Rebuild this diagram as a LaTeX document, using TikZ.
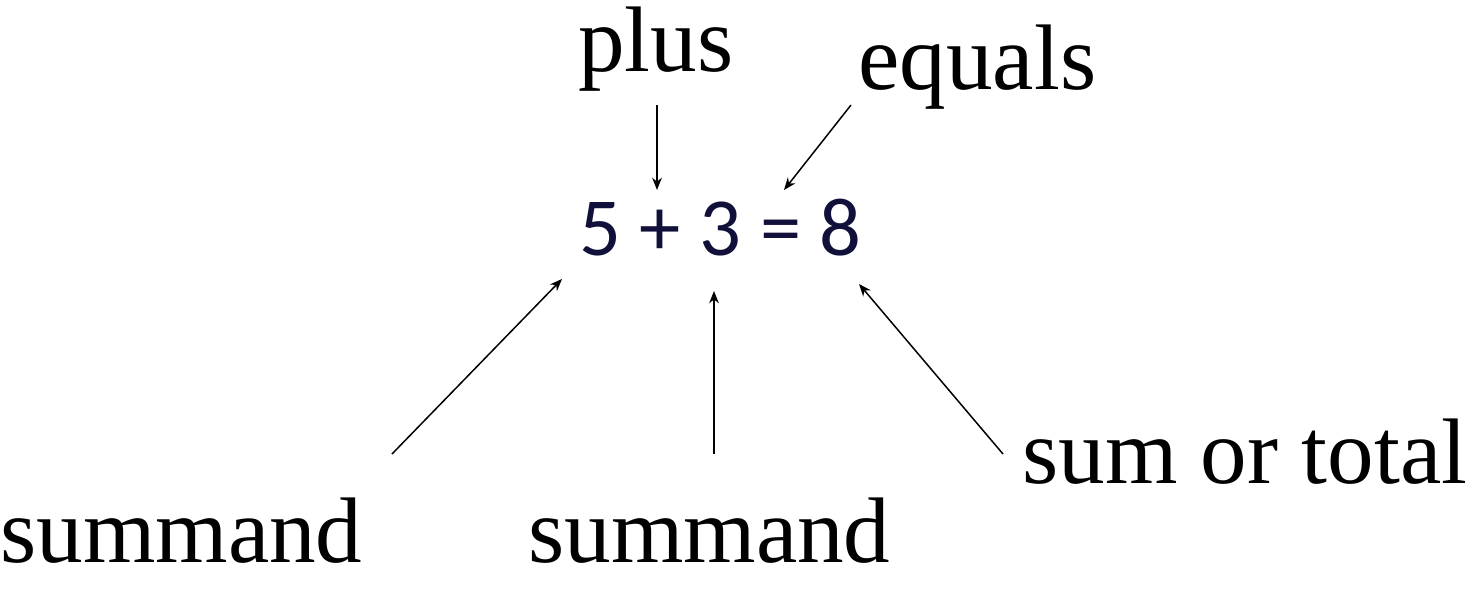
\documentclass[tikz,border=0pt]{standalone}
\usepackage{fontspec}
\setmainfont{Liberation Serif}
\newfontfamily\eqfont{Carlito}
\usetikzlibrary{arrows.meta}
\definecolor{eqnavy}{HTML}{10103A}

\begin{document}
\begin{tikzpicture}[x=0.02cm,y=-0.02cm,
    word/.style={font=\fontsize{53}{60}\selectfont,inner sep=0,anchor=base west},
    pointer/.style={line width=.85pt,-{Stealth[length=7pt,width=5.5pt]}}]

\useasboundingbox (0,0) rectangle (1471,598);

%equation
\node[inner sep=0,anchor=base west,text=eqnavy,font=\eqfont\fontsize{47}{52}\selectfont] at (579,255)(sum){5 + 3 = 8};

%names
\node[word] at (578,72)(plus){plus};
\node[word] at (858,90)(equals){equals};
\node[word] at (0,562)(first){summand};
\node[word] at (528,562)(second){summand};
\node[word] at (1022,483)(total){sum or total};

%arrow ends
\coordinate (plusT) at (657,105);
\coordinate (plusH) at (657,190);
\coordinate (equalsT) at (851,105);
\coordinate (equalsH) at (784,190);
\coordinate (firstT) at (392,454);
\coordinate (firstH) at (562,279);
\coordinate (secondT) at (714,454);
\coordinate (secondH) at (714,291);
\coordinate (totalT) at (1003,454);
\coordinate (totalH) at (859,284);

\foreach \n in {plus,equals,first,second,total}{
    \draw[pointer] (\n T) -- (\n H);
}

\end{tikzpicture}
\end{document}
